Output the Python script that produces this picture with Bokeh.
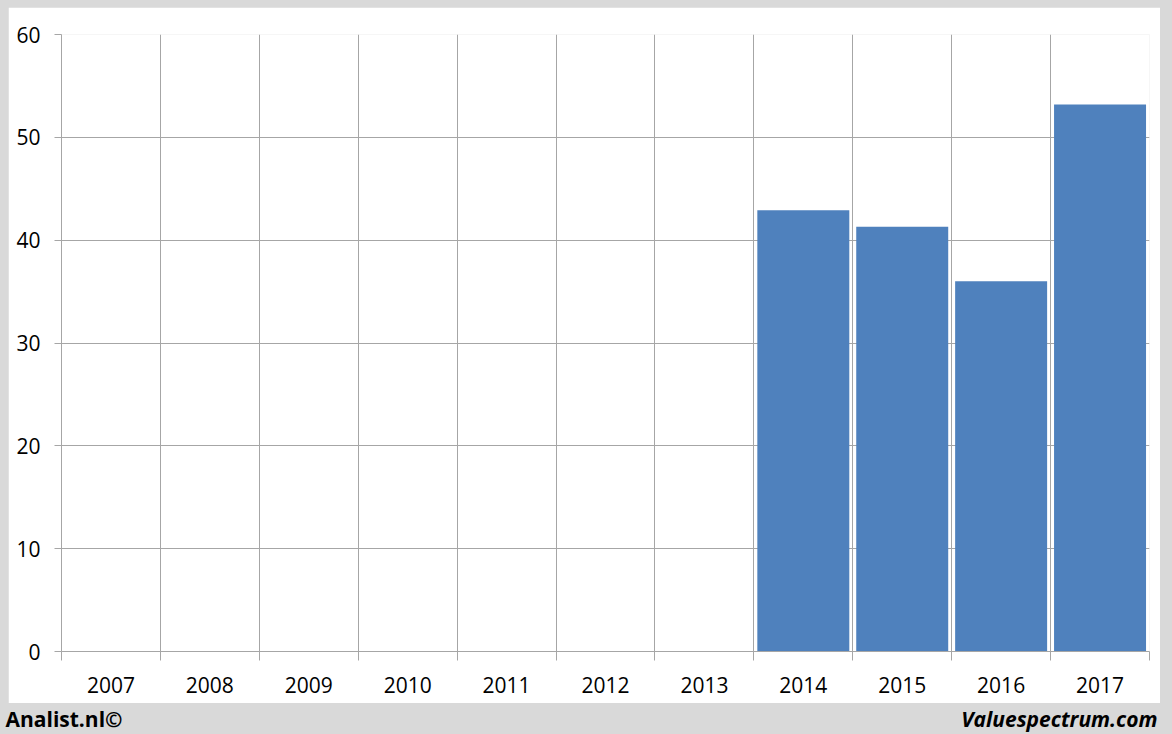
from bokeh.plotting import figure
from bokeh.models import FixedTicker, Range1d, ColumnDataSource, Spacer
from bokeh.layouts import column, row
from bokeh.core.properties import value
from bokeh.embed import file_html
from bokeh.resources import INLINE

years = ["2007", "2008", "2009", "2010", "2011", "2012", "2013", "2014", "2015", "2016", "2017"]
values = [None, None, None, None, None, None, None, 42.9, 41.3, 36.0, 53.2]
y_ticks = [0, 10, 20, 30, 40, 50, 60]
left_note = "Analist.nl©"
right_note = "Valuespectrum.com"

FONT = "Open Sans"
GRID = "#a6a6a6"
BAR = "#4f81bd"
BAND = "#d9d9d9"

centers = [i + 0.5 for i in range(len(years))]
bounds = list(range(len(years) + 1))
bx = [c for c, v in zip(centers, values) if v is not None]
bv = [v for v in values if v is not None]
src = ColumnDataSource(dict(x=bx, top=bv))

p = figure(width=1152, height=696, output_backend="svg", toolbar_location=None,
           x_range=Range1d(0, len(years)), y_range=Range1d(0, 60),
           min_border_left=53, min_border_right=11, min_border_top=27, min_border_bottom=52)
p.background_fill_color = "white"
p.border_fill_color = "white"
p.outline_line_color = None

p.vbar(x="x", top="top", width=0.93, source=src, fill_color=BAR, line_color=None)

# x axis: labels at centers, tick marks at boundaries
p.xaxis.ticker = FixedTicker(ticks=centers, minor_ticks=bounds)
p.xaxis.major_label_overrides = {c: y for c, y in zip(centers, years)}
p.xaxis.major_tick_line_color = None
p.xaxis.major_tick_out = 0
p.xaxis.major_tick_in = 0
p.xaxis.minor_tick_out = 9
p.xaxis.minor_tick_in = 0
p.xaxis.minor_tick_line_color = GRID
p.xaxis.axis_line_color = GRID
p.xaxis.major_label_standoff = 16
p.xaxis.major_label_text_font = FONT
p.xaxis.major_label_text_font_size = "21px"
p.xaxis.major_label_text_color = "black"

p.yaxis.ticker = FixedTicker(ticks=y_ticks)
p.yaxis.major_tick_out = 7
p.yaxis.major_tick_in = 0
p.yaxis.minor_tick_line_color = None
p.yaxis.major_tick_line_color = GRID
p.yaxis.axis_line_color = GRID
p.yaxis.major_label_standoff = 14
p.yaxis.major_label_text_font = FONT
p.yaxis.major_label_text_font_size = "21px"
p.yaxis.major_label_text_color = "black"

p.xgrid.ticker = FixedTicker(ticks=bounds)
p.xgrid.grid_line_color = GRID
p.ygrid.ticker = FixedTicker(ticks=y_ticks)
p.ygrid.grid_line_color = GRID

# bottom band with credits
band = figure(width=1172, height=31, output_backend="svg", toolbar_location=None,
              x_range=Range1d(0, 1), y_range=Range1d(0, 1),
              min_border_left=0, min_border_right=0, min_border_top=0, min_border_bottom=0)
band.background_fill_color = BAND
band.border_fill_color = BAND
band.outline_line_color = None
band.axis.visible = False
band.grid.visible = False
band.text(x=[0.0], y=[0.5], text=[left_note], text_font=value(FONT), text_font_style="bold",
          text_font_size="21px", text_align="left", text_baseline="middle", text_color="black",
          x_offset=5)
band.text(x=[1.0], y=[0.5], text=[right_note], text_font=value(FONT), text_font_style="bold italic",
          text_font_size="21px", text_align="right", text_baseline="middle", text_color="black",
          x_offset=-15)

gray = {"background-color": BAND}
top_pad = Spacer(width=1172, height=7, styles=gray)
left_pad = Spacer(width=8, height=696, styles=gray)
right_pad = Spacer(width=12, height=696, styles=gray)
middle = row(left_pad, p, right_pad, spacing=0, styles=gray)
layout = column(top_pad, middle, band, spacing=0, styles=gray)

open("out.html", "w").write(file_html(layout, INLINE))
